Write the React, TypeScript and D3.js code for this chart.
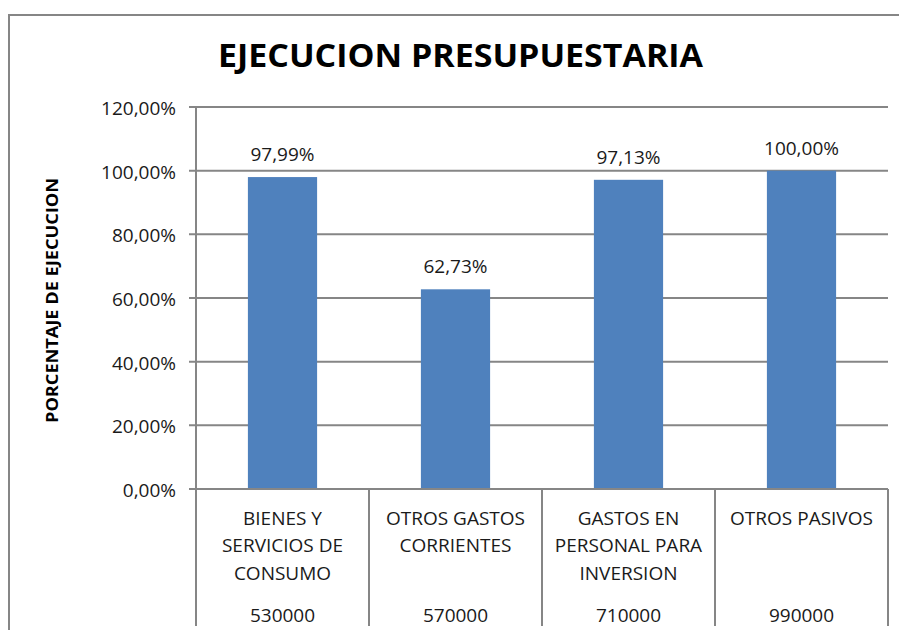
import React from "react";
import * as d3 from "d3";

const categories: string[][] = [
  ["BIENES Y", "SERVICIOS DE", "CONSUMO"],
  ["OTROS GASTOS", "CORRIENTES"],
  ["GASTOS EN", "PERSONAL PARA", "INVERSION"],
  ["OTROS PASIVOS"],
];
const codes = ["530000", "570000", "710000", "990000"];
const values = [0.9799, 0.6273, 0.9713, 1.0];
const yTicks = [0, 0.2, 0.4, 0.6, 0.8, 1.0, 1.2];

const W = 899;
const H = 630;
const FONT = "'Open Sans', 'Liberation Sans', sans-serif";
const GRAY = "#868686";
const BAR = "#4F81BD";
const TEXT = "#1a1a1a";

const fmtPct = (v: number) => (v * 100).toFixed(2).replace(".", ",") + "%";

export default function App() {
  const x = d3
    .scaleBand<string>()
    .domain(codes)
    .range([196, 888])
    .padding(0);
  const y = d3.scaleLinear().domain([0, 1.2]).range([489, 107]);
  const bw = x.bandwidth() * 0.4;
  const bottom = 626;

  return (
    <svg
      width={W}
      height={H}
      style={{ position: "absolute", left: 0, top: 0, background: "#fff" }}
      fontFamily={FONT}
    >
      <rect x={0} y={0} width={W} height={H} fill="#fff" />
      {/* frame */}
      <line x1={8} y1={15} x2={W} y2={15} stroke={GRAY} strokeWidth={2} />
      <line x1={9} y1={14} x2={9} y2={H} stroke={GRAY} strokeWidth={2} />

      {/* title */}
      <text
        x={460.5}
        y={67}
        textAnchor="middle"
        fontSize={32}
        fontWeight="bold"
        fill="#000"
        textLength={485}
        lengthAdjust="spacingAndGlyphs"
      >
        EJECUCION PRESUPUESTARIA
      </text>

      {/* gridlines + ticks */}
      {yTicks.map((t) => (
        <g key={t}>
          <line x1={189} x2={888} y1={y(t)} y2={y(t)} stroke={GRAY} strokeWidth={2} />
          <text
            x={176}
            y={y(t) + 1}
            textAnchor="end"
            dominantBaseline="central"
            fontSize={19}
            fill={TEXT}
          >
            {fmtPct(t)}
          </text>
        </g>
      ))}

      {/* bars */}
      {values.map((v, i) => {
        const cx = (x(codes[i]) as number) + x.bandwidth() / 2;
        return (
          <g key={i}>
            <rect x={cx - bw / 2} y={y(v)} width={bw} height={y(0) - y(v)} fill={BAR} />
            <text x={cx} y={y(v) - 16} textAnchor="middle" fontSize={19} fill={TEXT}>
              {fmtPct(v)}
            </text>
          </g>
        );
      })}

      {/* axes */}
      <line x1={196} x2={196} y1={107} y2={bottom} stroke={GRAY} strokeWidth={2} />
      <line x1={189} x2={888} y1={489} y2={489} stroke={GRAY} strokeWidth={2} />
      {codes.map((c, i) => {
        const x1 = (x(c) as number) + x.bandwidth();
        return (
          <line key={i} x1={x1} x2={x1} y1={489} y2={bottom} stroke={GRAY} strokeWidth={2} />
        );
      })}

      {/* category labels */}
      {categories.map((lines, i) => {
        const cx = (x(codes[i]) as number) + x.bandwidth() / 2;
        return (
          <g key={i}>
            {lines.map((l, j) => (
              <text
                key={j}
                x={cx}
                y={518 + j * 27.3}
                textAnchor="middle"
                dominantBaseline="central"
                fontSize={19}
                fill={TEXT}
              >
                {l}
              </text>
            ))}
            <text
              x={cx}
              y={614.5}
              textAnchor="middle"
              dominantBaseline="central"
              fontSize={19}
              fill={TEXT}
            >
              {codes[i]}
            </text>
          </g>
        );
      })}

      {/* y axis title */}
      <text
        transform={`translate(51,300.5) rotate(-90)`}
        textAnchor="middle"
        dominantBaseline="central"
        fontSize={16.5}
        fontWeight="bold"
        fill="#000"
        textLength={245}
        lengthAdjust="spacingAndGlyphs"
      >
        PORCENTAJE DE EJECUCION
      </text>
    </svg>
  );
}
